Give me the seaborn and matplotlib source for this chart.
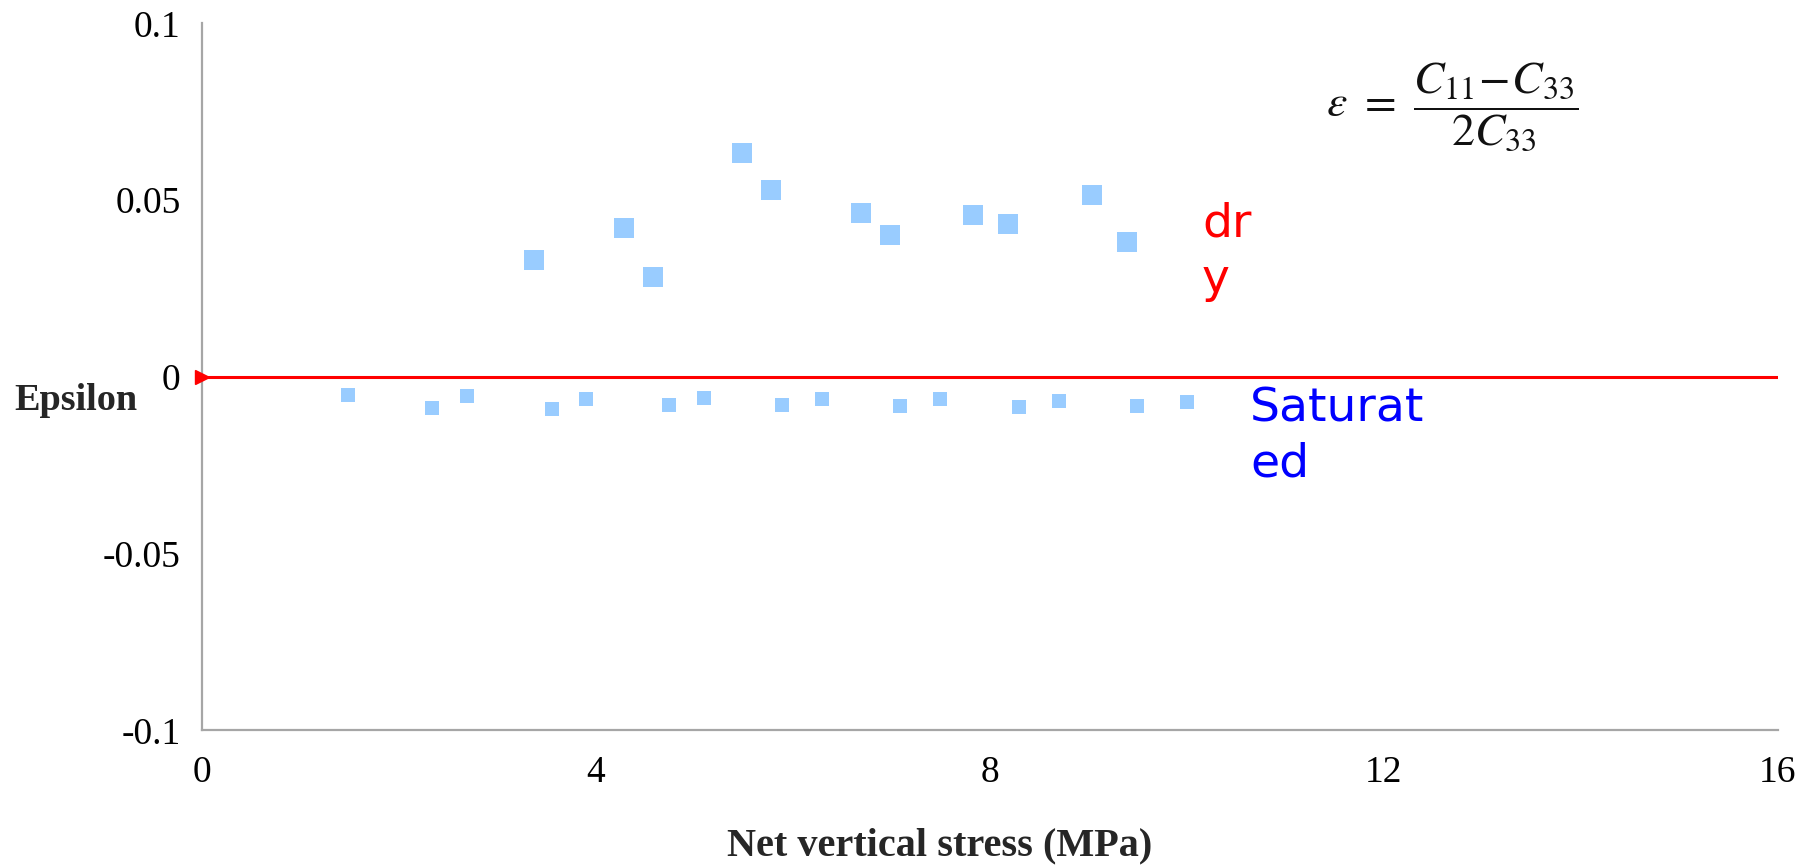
import matplotlib
matplotlib.use("Agg")
import matplotlib.pyplot as plt
import seaborn as sns
import pandas as pd

# Epsilon anisotropy versus net vertical stress
dry_stress = [3.38, 4.29, 4.58, 5.49, 5.78, 6.69, 6.99, 7.83, 8.19, 9.04, 9.39]
dry_eps = [0.0331, 0.0421, 0.0282, 0.0633, 0.0528, 0.0464, 0.0400,
           0.0458, 0.0432, 0.0514, 0.0382]

sat_stress = [1.49, 2.34, 2.70, 3.56, 3.90, 4.75, 5.10, 5.89, 6.30,
              7.09, 7.50, 8.30, 8.70, 9.50, 10.0]
sat_eps = [-0.0052, -0.0088, -0.0054, -0.0091, -0.0063, -0.0079, -0.0060,
           -0.0079, -0.0063, -0.0083, -0.0062, -0.0085, -0.0068, -0.0082,
           -0.0070]

x_ticks = [0, 4, 8, 12, 16]
y_ticks = [-0.1, -0.05, 0, 0.05, 0.1]
y_tick_labels = ["-0.1", "-0.05", "0", "0.05", "0.1"]

dry = pd.DataFrame({"stress": dry_stress, "eps": dry_eps})
sat = pd.DataFrame({"stress": sat_stress, "eps": sat_eps})

sns.set_style("white")
plt.rcParams["mathtext.fontset"] = "stix"

W, H = 1816, 866
fig = plt.figure(figsize=(W / 100, H / 100), dpi=100)
ax = fig.add_axes([201.5 / W, 1 - 730.3 / H, 1576.2 / W, 707.0 / H])

marker_color = "#99CCFF"
sns.scatterplot(data=dry, x="stress", y="eps", ax=ax, marker="s", s=205,
                color=marker_color, linewidth=0, zorder=3)
sns.scatterplot(data=sat, x="stress", y="eps", ax=ax, marker="s", s=100,
                color=marker_color, linewidth=0, zorder=3)

# zero reference line with arrow head at the origin
ax.axhline(0, color="#FF0000", lw=2.2, zorder=2)
ax.plot([0], [0], marker=">", color="#FF0000", ms=10, clip_on=False, zorder=4)

ax.set_xlim(0, 16)
ax.set_ylim(-0.1, 0.1)
ax.set_xticks(x_ticks)
ax.set_xticklabels([str(t) for t in x_ticks])
ax.set_yticks(y_ticks)
ax.set_yticklabels(y_tick_labels)

axis_gray = "#a6a6a6"
for side in ("top", "right"):
    ax.spines[side].set_visible(False)
for side in ("left", "bottom"):
    ax.spines[side].set_color(axis_gray)
    ax.spines[side].set_linewidth(1.6)

serif = ["Liberation Serif", "DejaVu Serif"]
ax.tick_params(axis="both", direction="out", length=8, width=1.6,
               color=axis_gray, labelsize=27, labelcolor="black")
ax.tick_params(axis="y", pad=7)
ax.tick_params(axis="x", pad=10)
for lab in ax.get_xticklabels() + ax.get_yticklabels():
    lab.set_fontfamily(serif)

ax.set_xlabel("Net vertical stress (MPa)", fontfamily=serif,
              fontweight="bold", fontsize=29)
ax.xaxis.set_label_coords(0.4685, -0.1637)
ax.xaxis.label.set_va("center")

ax.set_ylabel("Epsilon", fontfamily=serif, fontweight="bold", fontsize=27.5,
              rotation=0, ha="left", va="center")
ax.yaxis.set_label_coords(-0.119, 0.467)

# series labels
fig.text(1202 / W, 1 - 202 / H, "dr\ny", color="#FF0000", fontsize=34,
         fontfamily="DejaVu Sans", va="top", ha="left", linespacing=1.3)
fig.text(1250 / W, 1 - 386 / H, "Saturat\ned", color="#0000FF", fontsize=34,
         fontfamily="DejaVu Sans", va="top", ha="left", linespacing=1.3)

# definition of epsilon
fig.text(1326 / W, 1 - 107 / H,
         r"$\varepsilon\ =\ \dfrac{C_{11}\!-\!C_{33}}{2C_{33}}$",
         color="#111111", fontsize=33, va="center", ha="left")

fig.savefig("out.png", dpi=100)
